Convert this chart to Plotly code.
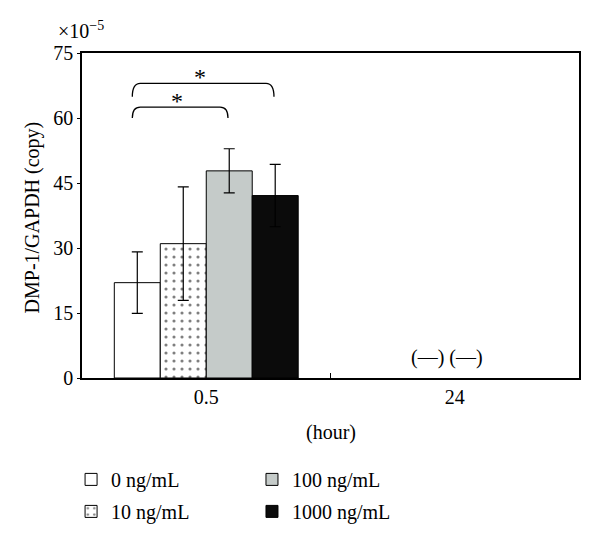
import plotly.graph_objects as go

# ---- data ----
hours = ["0.5", "24"]
series_names = ["0 ng/mL", "10 ng/mL", "100 ng/mL", "1000 ng/mL"]
values = {
    "0 ng/mL": [22.0, None],
    "10 ng/mL": [31.0, None],
    "100 ng/mL": [47.8, None],
    "1000 ng/mL": [42.1, None],
}
errors = {
    "0 ng/mL": [7.1, None],
    "10 ng/mL": [13.1, None],
    "100 ng/mL": [5.1, None],
    "1000 ng/mL": [7.2, None],
}
y_ticks = [0, 15, 30, 45, 60, 75]
# significance brackets: (bar index a, bar index b, bracket leg bottom, bracket top)
sig_pairs = [(0, 2, 60.0, 62.5), (0, 3, 64.9, 68.0)]
not_detected_text = "(—) (—)"

# ---- styles ----
FONT = "Liberation Serif"
FS = 20
colors = ["#ffffff", "#ffffff", "#c5cbc9", "#0b0b0b"]
patterns = [None, dict(shape=".", fgcolor="#000000", bgcolor="#ffffff", size=8, solidity=0.12, fillmode="overlay"), None, None]
legend_ids = ["legend", "legend", "legend2", "legend2"]
bargap = 0.26

fig = go.Figure()
for i, name in enumerate(series_names):
    marker = dict(color=colors[i], line=dict(color="#000000", width=1))
    if patterns[i]:
        marker["pattern"] = patterns[i]
    fig.add_trace(go.Bar(
        x=hours, y=values[name], name=name,
        marker=marker,
        error_y=dict(type="data", array=errors[name], visible=True,
                     color="#000000", thickness=1.2, width=5.5),
        legend=legend_ids[i], legendgroup=name,
    ))

# bracket positions from bar geometry
bw = (1 - bargap) / len(series_names)
def bar_center(k):
    return (k - (len(series_names) - 1) / 2) * bw

shapes = []
annotations = []
for a, b, y0, y1 in sig_pairs:
    xa = bar_center(a) - 0.02
    xb = bar_center(b) - 0.005
    d = 0.032
    path = f"M {xa},{y0} Q {xa},{y1} {xa + d},{y1} L {xb - d},{y1} Q {xb},{y1} {xb},{y0}"
    shapes.append(dict(type="path", xref="x", yref="y", path=path,
                       line=dict(color="#000000", width=1.3)))
    annotations.append(dict(x=(xa + xb) / 2 - 0.012, y=y1 + 1.35, xref="x", yref="y", text="*",
                            showarrow=False, font=dict(family=FONT, size=24, color="#000"),
                            yanchor="middle"))

annotations += [
    dict(x=0, y=1, xref="paper", yref="paper", text="×10<sup>−5</sup>", showarrow=False,
         xanchor="left", yanchor="bottom", xshift=-26, yshift=9,
         font=dict(family=FONT, size=FS, color="#000")),
    dict(x=0, y=0.494, xref="paper", yref="paper", text="DMP-1/GAPDH (copy)", textangle=-90,
         showarrow=False, xanchor="center", yanchor="middle", xshift=-50,
         font=dict(family=FONT, size=FS, color="#000")),
    dict(x=0.5, y=0, xref="paper", yref="paper", text="(hour)", showarrow=False,
         xanchor="center", yanchor="middle", yshift=-54,
         font=dict(family=FONT, size=FS, color="#000")),
    dict(x=0.97, y=4.8, xref="x", yref="y", text=not_detected_text, showarrow=False,
         xanchor="center", yanchor="middle",
         font=dict(family=FONT, size=FS, color="#000")),
]

fig.update_layout(
    width=600, height=543,
    margin=dict(l=82, r=21, t=53, b=165, autoexpand=False),
    paper_bgcolor="#ffffff", plot_bgcolor="#ffffff",
    barmode="group", bargap=bargap, bargroupgap=0,
    font=dict(family=FONT, size=FS, color="#000000"),
    shapes=shapes, annotations=annotations,
    xaxis=dict(type="category", categoryorder="array", categoryarray=hours,
               range=[-0.5, 1.5], tickson="boundaries", ticks="inside", ticklen=5,
               tickcolor="#000", tickwidth=1.2,
               showline=True, linecolor="#000000", linewidth=1.5, mirror=True,
               showgrid=False, zeroline=False, ticklabelstandoff=0, automargin=False),
    yaxis=dict(range=[0, 75], tickvals=y_ticks, ticks="outside", ticklen=3,
               tickcolor="#000", tickwidth=1,
               showline=True, linecolor="#000000", linewidth=1.5, mirror=True,
               showgrid=False, zeroline=False, ticklabelstandoff=0, automargin=False),
    legend=dict(x=-0.022, y=-0.252, xanchor="left", yanchor="top", orientation="v",
                tracegroupgap=3, font=dict(family=FONT, size=FS), bgcolor="rgba(0,0,0,0)"),
    legend2=dict(x=0.342, y=-0.252, xanchor="left", yanchor="top", orientation="v",
                 tracegroupgap=3, font=dict(family=FONT, size=FS), bgcolor="rgba(0,0,0,0)"),
    showlegend=True,
)

fig.write_html("out.html", config={"displayModeBar": False},
               post_script="document.body.style.margin='0px';")
